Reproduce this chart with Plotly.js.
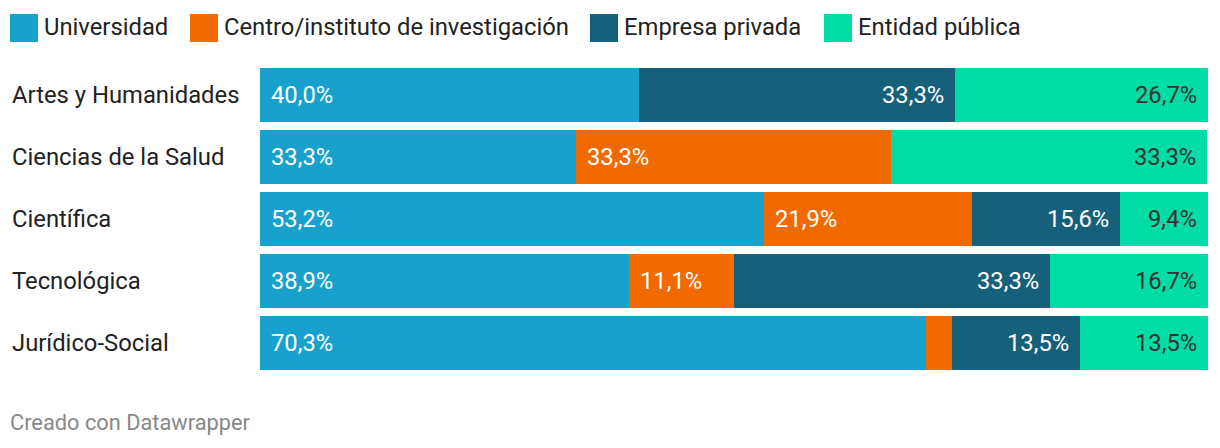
<!DOCTYPE html>
<html>
<head>
<meta charset="utf-8">
<script src="https://cdn.plot.ly/plotly-3.0.1.min.js"></script>
<style>
html,body{margin:0;padding:0;background:#fff;}
#chart{width:1220px;height:448px;}
</style>
</head>
<body>
<div id="chart"></div>
<script>
// ---- data ----
const categories = ["Artes y Humanidades", "Ciencias de la Salud", "Científica", "Tecnológica", "Jurídico-Social"];
const seriesNames = ["Universidad", "Centro/instituto de investigación", "Empresa privada", "Entidad pública"];
const universidad = [40.0, 33.3, 53.2, 38.9, 70.3];
const centro      = [0, 33.3, 21.9, 11.1, 2.7];
const empresa     = [33.3, 0, 15.6, 33.3, 13.5];
const entidad     = [26.7, 33.3, 9.4, 16.7, 13.5];
const footer = "Creado con Datawrapper";

// ---- styling ----
const colors = ["#18a1cd", "#f06a00", "#17607a", "#00dca6"];
const textColors = ["#ffffff", "#ffffff", "#ffffff", "#333333"];
const labelAlign = ["start", "start", "end", "end"];
const FONT = "Roboto, 'Open Sans', sans-serif";
const FS = 23.8;

const W = 1220, H = 448;
const mL = 260, mR = 12, mT = 64, mB = 74;
const plotW = W - mL - mR, plotH = H - mT - mB;
const px2x = p => (p - mL) / plotW;
const py2y = p => (H - mB - p) / plotH;

const series = [universidad, centro, empresa, entidad];
const fmt = v => v.toFixed(1).replace('.', ',') + '%';

const traces = series.map((vals, i) => ({
  type: 'bar',
  orientation: 'h',
  name: seriesNames[i],
  y: categories,
  x: vals,
  marker: {color: colors[i], line: {width: 0}},
  hoverinfo: 'skip',
  showlegend: false
}));

const annotations = [];
const shapes = [];

// value labels
categories.forEach((c, r) => {
  let cum = 0;
  series.forEach((vals, i) => {
    const v = vals[r];
    const start = cum, end = cum + v;
    cum = end;
    if (v < 5) return;
    const isStart = labelAlign[i] === 'start';
    annotations.push({
      x: isStart ? start : Math.min(end, 100), y: c, xref: 'x', yref: 'y',
      xanchor: isStart ? 'left' : 'right', yanchor: 'middle',
      xshift: isStart ? 9 : -9,
      text: fmt(v), showarrow: false,
      font: {family: FONT, size: FS, color: textColors[i]}
    });
  });
  // category labels
  annotations.push({
    x: px2x(10), y: c, xref: 'paper', yref: 'y',
    xanchor: 'left', yanchor: 'middle',
    text: c, showarrow: false,
    font: {family: FONT, size: FS, color: '#222222'}
  });
});

// legend
const legendX = [10, 190, 590, 824];
seriesNames.forEach((n, i) => {
  shapes.push({
    type: 'rect', xref: 'paper', yref: 'paper',
    x0: px2x(legendX[i]), x1: px2x(legendX[i] + 28),
    y0: py2y(42), y1: py2y(14),
    fillcolor: colors[i], line: {width: 0}
  });
  annotations.push({
    x: px2x(legendX[i] + 32), y: py2y(27), xref: 'paper', yref: 'paper',
    xanchor: 'left', yanchor: 'middle', text: n, showarrow: false,
    font: {family: FONT, size: FS, color: '#222222'}
  });
});

// footer
annotations.push({
  x: px2x(8), y: py2y(422), xref: 'paper', yref: 'paper',
  xanchor: 'left', yanchor: 'middle', text: footer, showarrow: false,
  font: {family: FONT, size: 21.8, color: '#888888'}
});

const layout = {
  width: W, height: H,
  margin: {l: mL, r: mR, t: mT, b: mB, pad: 0},
  paper_bgcolor: '#ffffff', plot_bgcolor: '#ffffff',
  barmode: 'stack',
  bargap: 8/62,
  xaxis: {range: [0, 100], visible: false, fixedrange: true},
  yaxis: {type: 'category', autorange: 'reversed', visible: false, fixedrange: true},
  annotations: annotations,
  shapes: shapes,
  font: {family: FONT}
};

Plotly.newPlot('chart', traces, layout, {staticPlot: true, displayModeBar: false});
</script>
</body>
</html>
